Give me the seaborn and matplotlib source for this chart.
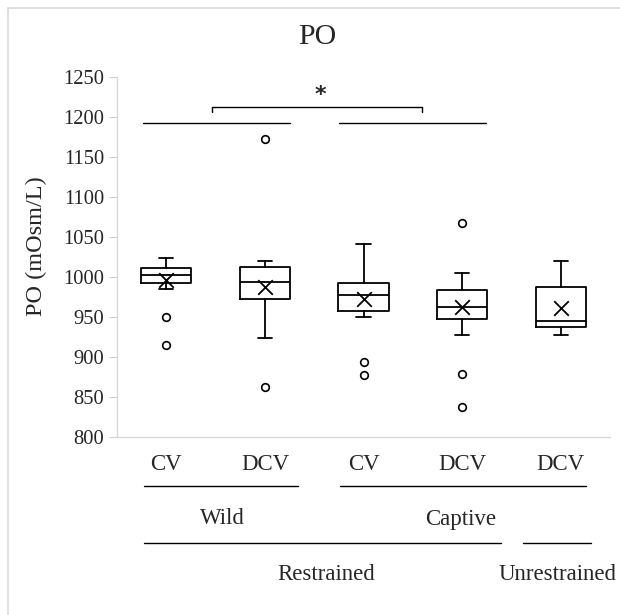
import matplotlib
matplotlib.use("Agg")
import matplotlib.pyplot as plt
import matplotlib.transforms as mtransforms
from matplotlib.lines import Line2D
import seaborn as sns

# ---- data ----
groups = ["CV", "DCV", "CV", "DCV", "DCV"]
whisker_lo = [985, 924, 950, 928, 927]
q1 = [993, 972, 957, 948, 938]
median = [1003, 994, 977, 963, 945]
q3 = [1011, 1013, 992, 984, 987]
whisker_hi = [1024, 1020, 1041, 1005, 1020]
means = [996, 987, 972, 962, 961]
outliers = [[950, 915], [1173, 863], [894, 878], [1068, 879, 838], []]
yticks = [800, 850, 900, 950, 1000, 1050, 1100, 1150, 1200, 1250]

sns.set_style("white")
plt.rcParams["font.family"] = ["Liberation Serif", "DejaVu Serif"]

W, H = 620, 615
fig = plt.figure(figsize=(W / 100, H / 100), dpi=100)
ax = fig.add_axes([117 / W, 1 - 437 / H, (610 - 117) / W, (437 - 77) / H])

stats = []
for i in range(len(groups)):
    stats.append(dict(med=median[i], q1=q1[i], q3=q3[i], whislo=whisker_lo[i],
                      whishi=whisker_hi[i], fliers=outliers[i], mean=means[i]))

lw = 1.3
ax.bxp(stats, positions=range(len(groups)), widths=0.51, capwidths=0.145,
       showmeans=False, showfliers=True, patch_artist=False,
       boxprops=dict(color="black", linewidth=lw),
       medianprops=dict(color="black", linewidth=lw),
       whiskerprops=dict(color="black", linewidth=lw),
       capprops=dict(color="black", linewidth=lw),
       flierprops=dict(marker="o", markersize=5.5, markerfacecolor="white",
                       markeredgecolor="black", markeredgewidth=1.2))
ax.scatter(range(len(groups)), means, marker="x", s=110, color="black",
           linewidths=1.3, zorder=5)

ax.set_xlim(-0.5, 4.5)
ax.set_ylim(800, 1250)
ax.set_yticks(yticks)
ax.set_yticklabels([str(v) for v in yticks], fontsize=14.8)
ax.set_xticks([])
ax.tick_params(axis="y", direction="out", length=6, width=0.8, color="#d0d0d0",
               pad=3, left=True)
for s in ["top", "right"]:
    ax.spines[s].set_visible(False)
for s in ["left", "bottom"]:
    ax.spines[s].set_color("#d9d9d9")
    ax.spines[s].set_linewidth(1.0)

# title and y label
fig.text(317 / W, 1 - 37 / H, "PO", ha="center", va="center", fontsize=21.5)
fig.text(36 / W, 1 - 246 / H, "PO (mOsm/L)", ha="center", va="center",
         rotation=90, fontsize=17.5)

# blended transform: x in data, y in figure fraction
tr = mtransforms.blended_transform_factory(ax.transData, fig.transFigure)

def fy(py):
    return 1 - py / H

def dx(px):
    return (px - 117) / ((610 - 117) / 5) - 0.5

def hline(x0, x1, py):
    ax.add_line(Line2D([dx(x0), dx(x1)], [fy(py), fy(py)], transform=tr,
                       color="black", linewidth=1.0, clip_on=False))

# category labels
fs = 16.5
for i, g in enumerate(groups):
    ax.text(i, fy(464), g, transform=tr, ha="center", va="center", fontsize=fs)

hline(144, 298, 486)
hline(340, 586, 486)
ax.text(dx(222), fy(519), "Wild", transform=tr, ha="center", va="center", fontsize=fs)
ax.text(dx(461), fy(519), "Captive", transform=tr, ha="center", va="center", fontsize=fs)
hline(144, 501, 543)
hline(523, 591, 543)
ax.text(dx(326), fy(575), "Restrained", transform=tr, ha="center", va="center", fontsize=fs)
ax.text(dx(558), fy(575), "Unrestrained", transform=tr, ha="center", va="center", fontsize=fs)

# significance annotation at top
hline(143, 290, 123)
hline(339, 486, 123)
ax.add_line(Line2D([dx(212), dx(212), dx(422), dx(422)],
                   [fy(112), fy(107), fy(107), fy(112)], transform=tr,
                   color="black", linewidth=1.0, clip_on=False))
ax.text(dx(320), fy(95), "*", transform=tr, ha="center", va="center",
        fontsize=16, fontweight="bold", family=["DejaVu Sans"])

# chart border (light gray)
fig.add_artist(Line2D([8 / W, 1], [1 - 8 / H, 1 - 8 / H], transform=fig.transFigure,
                      color="#d9d9d9", linewidth=1.2))
fig.add_artist(Line2D([8 / W, 8 / W], [0, 1 - 8 / H], transform=fig.transFigure,
                      color="#d9d9d9", linewidth=1.2))

fig.savefig("out.png", dpi=100, facecolor="white")
